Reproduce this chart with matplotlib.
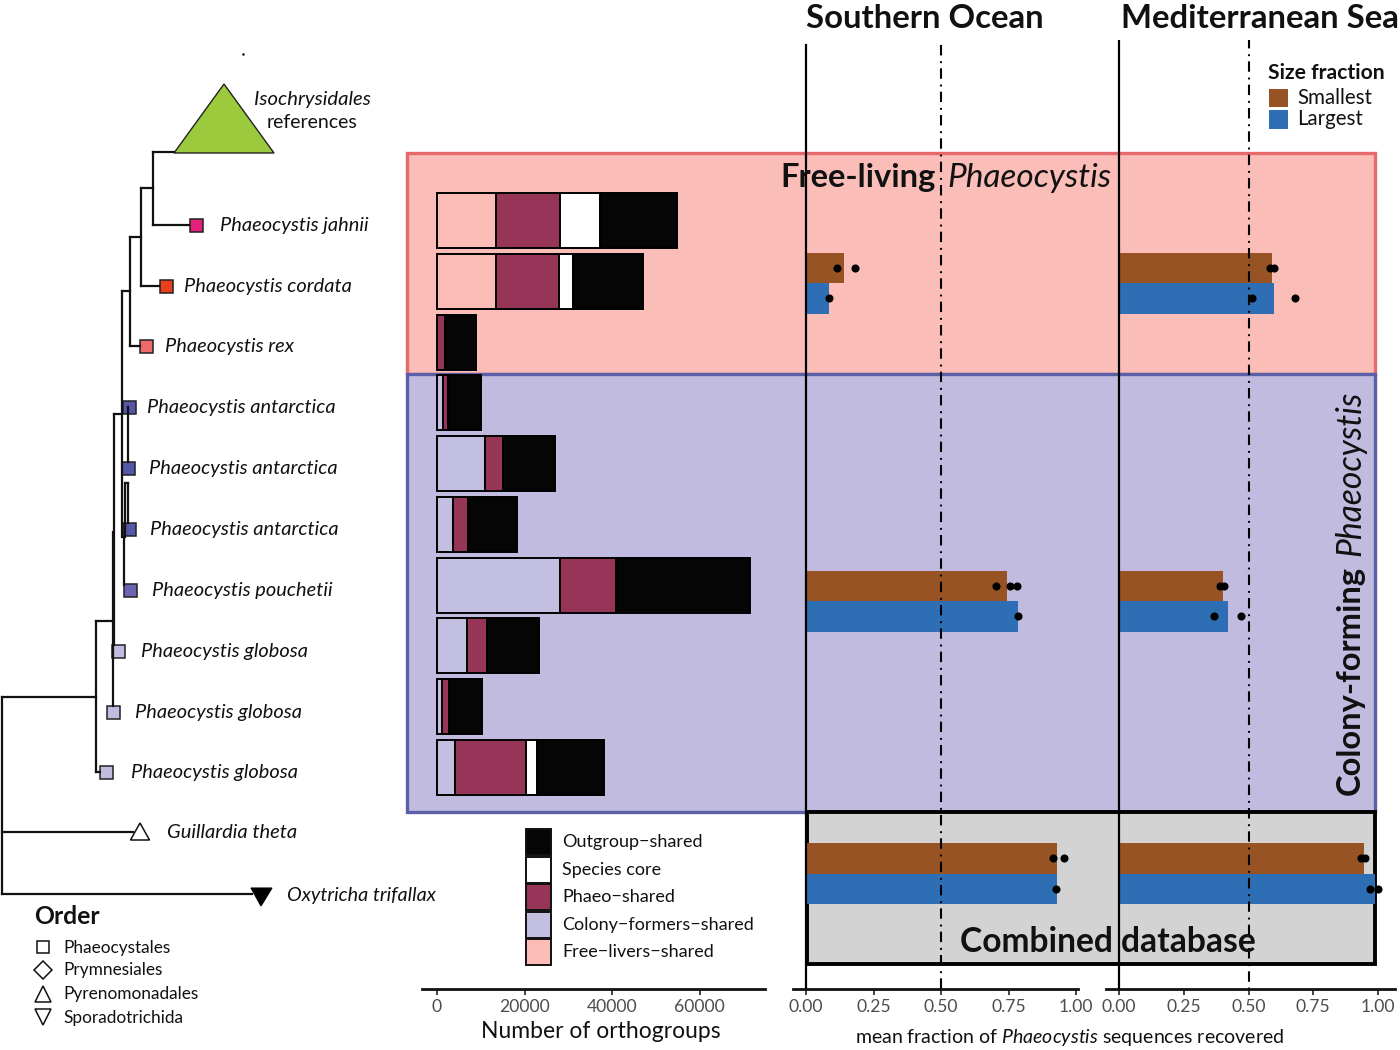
import numpy as np
import matplotlib
matplotlib.use("Agg")
import matplotlib.pyplot as plt
from matplotlib.patches import Rectangle, Polygon

plt.rcParams['font.family'] = ['Lato', 'DejaVu Sans']
plt.rcParams['mathtext.fontset'] = 'custom'
plt.rcParams['mathtext.it'] = 'Lato:italic'
plt.rcParams['mathtext.rm'] = 'Lato'

# orthogroup counts per genome, top row to bottom row
species = ['Phaeocystis jahnii', 'Phaeocystis cordata', 'Phaeocystis rex',
           'Phaeocystis antarctica', 'Phaeocystis antarctica', 'Phaeocystis antarctica',
           'Phaeocystis pouchetii', 'Phaeocystis globosa', 'Phaeocystis globosa',
           'Phaeocystis globosa']
free_livers = [13500, 13500, 0, 0, 0, 0, 0, 0, 0, 0]
colony_formers = [0, 0, 0, 1400, 11000, 3700, 28100, 6900, 1100, 4100]
phaeo_shared = [14600, 14400, 1800, 1100, 4100, 3400, 12800, 4600, 1600, 16200]
species_core = [9100, 3200, 0, 0, 0, 0, 0, 0, 0, 2500]
outgroup = [17600, 15900, 7100, 7600, 11900, 11200, 30700, 11900, 7600, 15400]

stack_labels = ['Outgroup\u2212shared', 'Species core', 'Phaeo\u2212shared',
                'Colony\u2212formers\u2212shared', 'Free\u2212livers\u2212shared']
stack_colors = ['#050505', '#ffffff', '#963557', '#c3bfe0', '#fbbdb5']

# recovered fractions: free-living, colony-forming, combined
so_small = [0.14, 0.745, 0.93]
so_large = [0.085, 0.785, 0.93]
med_small = [0.59, 0.40, 0.945]
med_large = [0.60, 0.42, 0.99]
so_small_pts = [[0.115, 0.18], [0.705, 0.755, 0.78], [0.915, 0.955]]
so_large_pts = [[0.085], [0.785], [0.925]]
med_small_pts = [[0.583, 0.60], [0.39, 0.405], [0.935, 0.95]]
med_large_pts = [[0.515, 0.68], [0.367, 0.47], [0.97, 1.0]]

brown = '#975323'
blue = '#2e6eb5'
ink = '#111111'
W, H = 1400, 1050
fig = plt.figure(figsize=(14, 10.5), dpi=100)


def px_axes(x0, x1, y0, y1, z):
    ax = fig.add_axes([x0 / W, 1 - y1 / H, (x1 - x0) / W, (y1 - y0) / H], zorder=z)
    ax.patch.set_alpha(0)
    return ax


# background panels
bg = px_axes(0, W, 0, H, 0)
bg.set_xlim(0, W)
bg.set_ylim(H, 0)
bg.axis('off')
bg.add_patch(Rectangle((406.5, 153), 968, 221, fc='#fbbdb8', ec='#e8696c', lw=2.4))
bg.add_patch(Rectangle((406.5, 374), 968, 437.5, fc='#c1bcdf', ec='#5a5fa8', lw=2.4))
bg.add_patch(Rectangle((807, 811.5), 567.5, 152.5, fc='#d3d3d3', ec='black', lw=2.8))


def style_bottom(ax, ticks, labels, xlo, xhi):
    for s in ['top', 'right', 'left']:
        ax.spines[s].set_visible(False)
    ax.spines['bottom'].set_linewidth(2)
    ax.spines['bottom'].set_color(ink)
    ax.set_yticks([])
    ax.set_xticks(ticks)
    ax.set_xticklabels(labels)
    ax.tick_params(axis='x', length=4, width=1.2, color='#222222', labelcolor='#4d4d4d',
                   labelsize=12.6, pad=3)
    ax.set_xlim(xlo, xhi)
    ax.set_ylim(989, 40)


# stacked bars
ax_bar = px_axes(422, 765, 40, 989, 1)
row_y = 220.5 + 60.75 * np.arange(len(species))
left = np.zeros(len(species))
stack_order = [free_livers, colony_formers, phaeo_shared, species_core, outgroup]
fill_order = stack_colors[::-1]
for vals, col in zip(stack_order, fill_order):
    vals = np.array(vals)
    keep = vals > 0
    ax_bar.barh(row_y[keep], vals[keep], height=55, left=left[keep], color=col,
                edgecolor='black', linewidth=1.4)
    left = left + vals
style_bottom(ax_bar, [0, 20000, 40000, 60000], ['0', '20000', '40000', '60000'],
             -15 / 87.5 * 20000, 328 / 87.5 * 20000)

# fraction panels
panel_y = [283, 601, 873.5]
frac_ticks = [0, 0.25, 0.5, 0.75, 1]
frac_labels = ['0.00', '0.25', '0.50', '0.75', '1.00']


def frac_panel(x0, x1, zero_px, one_px, small, large, small_pts, large_pts, top):
    ax = px_axes(x0, x1, 40, 989, 1)
    span = one_px - zero_px
    y = np.array(panel_y)
    ax.barh(y - 15.25, small, height=30.5, color=brown)
    ax.barh(y + 15.25, large, height=30.5, color=blue)
    ax.plot([0, 0], [top, 989], color='black', lw=1.6, zorder=4)
    ax.plot([0.5, 0.5], [top, 989], color='black', lw=1.5, ls=(0, (5, 2.8, 0.9, 2.5)), zorder=4)
    for yy, a, b in zip(y, small_pts, large_pts):
        ax.scatter(a, [yy - 15.25] * len(a), s=34, color='black', linewidths=0, zorder=5)
        ax.scatter(b, [yy + 15.25] * len(b), s=34, color='black', linewidths=0, zorder=5)
    style_bottom(ax, frac_ticks, frac_labels, (x0 - zero_px) / span, (x1 - zero_px) / span)
    return ax


frac_panel(793, 1078, 806, 1076, so_small, so_large, so_small_pts, so_large_pts, 45)
frac_panel(1106, 1395, 1119, 1378, med_small, med_large, med_small_pts, med_large_pts, 38)

# tree and all labels go on a top layer
top = px_axes(0, W, 0, H, 5)
top.set_xlim(0, W)
top.set_ylim(H, 0)
top.axis('off')

tree_segments = [
    (153, 152, 174, 152), (153, 152, 153, 225), (153, 225, 189, 225),
    (141, 188, 153, 188), (141, 188, 141, 286), (141, 286, 159, 286),
    (129.5, 237, 141, 237), (129.5, 237, 129.5, 346), (129.5, 346, 140, 346),
    (122, 291, 129.5, 291), (122, 291, 122, 537), (114, 414, 122, 414),
    (128, 407, 128, 462), (125, 483, 128, 483), (125, 483, 125, 537), (128, 483, 128, 523),
    (124, 537, 124, 585), (114, 414, 114, 645), (112.5, 532, 112.5, 706),
    (96, 621, 113, 621), (96, 621, 96, 772), (96, 772, 100, 772), (1.5, 697, 96, 697),
    (1.5, 697, 1.5, 893.5), (1.5, 832, 133, 832), (1.5, 893.5, 252, 893.5),
]
for x0, y0, x1, y1 in tree_segments:
    top.plot([x0, x1], [y0, y1], color=ink, lw=1.6, solid_capstyle='projecting')

top.add_patch(Polygon([(224, 84), (174, 153), (274, 153)], fc='#9bcb3c', ec='#222222', lw=1))
top.plot([243], [54], marker='.', ms=1.5, color='black')

tip_x = [196, 166, 146, 129, 128, 129, 130, 118, 113, 106]
tip_y = [225, 286, 346, 407, 468, 529, 590, 651, 712, 772]
tip_colors = ['#e6207d', '#e8401f', '#ee6a6a', '#5557a8', '#5557a8', '#5557a8', '#6b64b0',
              '#c1bcdf', '#c1bcdf', '#c1bcdf']
label_x = [219.5, 184, 165, 147, 149, 150, 152, 141, 135, 131]
for x, y, c, lx, name in zip(tip_x, tip_y, tip_colors, label_x, species):
    top.add_patch(Rectangle((x - 6.5, y - 6.5), 13, 13, fc=c, ec='#222222', lw=1.1))
    top.text(lx, y + 0.5, name, style='italic', fontsize=14.4, va='center', color=ink)

top.add_patch(Polygon([(140, 823), (130.5, 840), (149.5, 840)], fc='white', ec=ink, lw=1.1))
top.add_patch(Polygon([(251, 888), (272, 888), (261, 906)], fc='black', ec='black', lw=0.8))
top.text(167, 833, 'Guillardia theta', style='italic', fontsize=14.5, va='center', color=ink)
top.text(287, 896, 'Oxytricha trifallax', style='italic', fontsize=14.2, va='center', color=ink)
top.text(312, 99, 'Isochrysidales', style='italic', fontsize=14.6, va='center', ha='center', color=ink)
top.text(312, 122, 'references', fontsize=14, va='center', ha='center', color=ink)

# order legend
top.text(34.5, 917, 'Order', fontsize=17.8, fontweight='bold', va='center', color=ink)
order_names = ['Phaeocystales', 'Prymnesiales', 'Pyrenomonadales', 'Sporadotrichida']
order_y = [947, 970, 993.5, 1017]
order_marks = ['s', 'D', '^', 'v']
order_sizes = [8, 9, 11, 11]
for nm, y, m, ms in zip(order_names, order_y, order_marks, order_sizes):
    top.plot([43], [y], marker=m, ms=ms, mfc='white', mec=ink, mew=1.1)
    top.text(63, y + 0.5, nm, fontsize=12.4, va='center', color=ink)

# orthogroup legend
legend_y = [842, 869.5, 897, 924.5, 951.5]
for y, lab, col in zip(legend_y, stack_labels, stack_colors):
    top.add_patch(Rectangle((526, y - 13), 25, 26, fc=col, ec=ink, lw=1.4))
    top.text(562.5, y + 0.5, lab, fontsize=13, va='center', color=ink)

# size fraction legend
top.text(1268, 73, 'Size fraction', fontsize=15.2, fontweight='bold', va='center', color=ink)
top.add_patch(Rectangle((1268.5, 89), 19, 18, fc=brown))
top.add_patch(Rectangle((1268.5, 110), 19, 19, fc=blue))
top.text(1297.5, 98, 'Smallest', fontsize=14.8, va='center', color=ink)
top.text(1297.5, 119, 'Largest', fontsize=14.8, va='center', color=ink)

# headings
top.text(925, 19, 'Southern Ocean', fontsize=23.7, fontweight='bold', ha='center', va='center', color=ink)
top.text(1259.5, 19, 'Mediterranean Sea', fontsize=23.7, fontweight='bold', ha='center', va='center', color=ink)
top.text(780.5, 178, 'Free-living', fontsize=23.5, fontweight='bold', va='center', color=ink)
top.text(947, 178, 'Phaeocystis', fontsize=24, style='italic', va='center', color=ink)
top.text(1350, 795, 'Colony-forming', fontsize=23.5, fontweight='bold', rotation=90, ha='center', va='bottom', color=ink)
top.text(1350, 391, 'Phaeocystis', fontsize=24.2, style='italic', rotation=90, ha='center', va='top', color=ink)
top.text(1108, 942, 'Combined database', fontsize=24.2, fontweight='bold', ha='center', va='center', color=ink)
top.text(601, 1032, 'Number of orthogroups', fontsize=16.5, ha='center', va='center', color=ink)
top.text(1070, 1037, r'mean fraction of $\mathit{Phaeocystis}$ sequences recovered', fontsize=14,
         ha='center', va='center', color=ink)

fig.savefig('out.png', dpi=100)
